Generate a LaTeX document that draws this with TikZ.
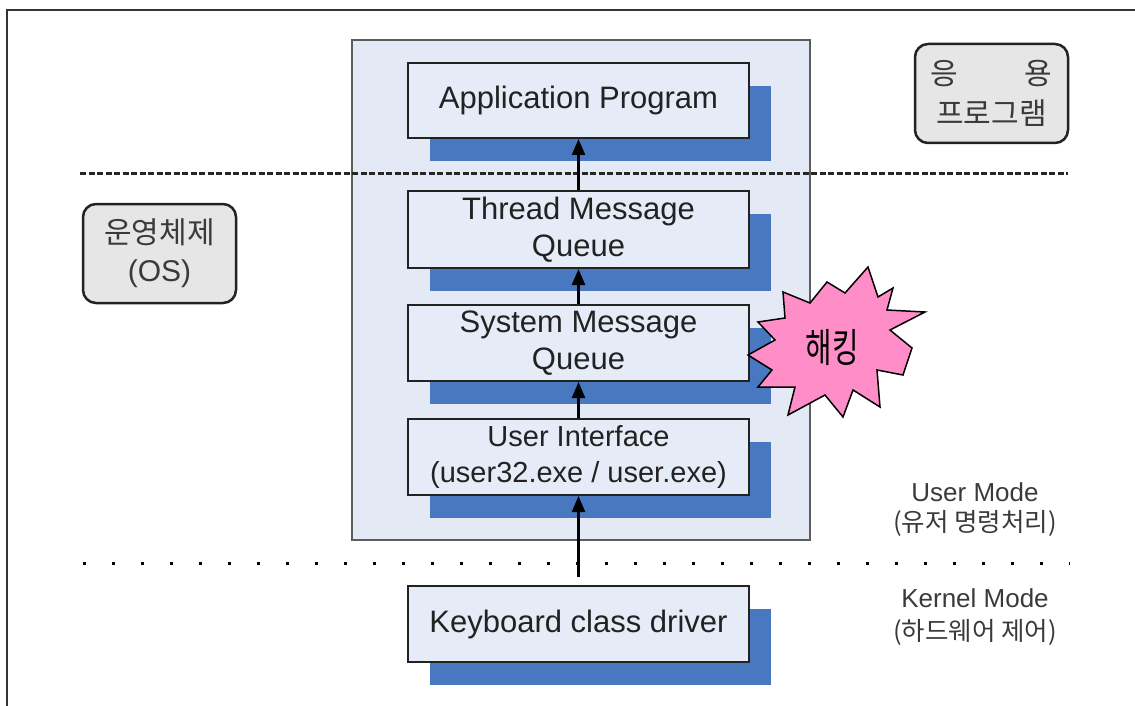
\documentclass[tikz,border=0pt]{standalone}
\usepackage{fontspec}
\usepackage{graphicx}
\setmainfont{Liberation Sans}
\newfontfamily\kr{Noto Sans CJK KR}
\usetikzlibrary{arrows.meta,shadows}
\definecolor{boxfill}{HTML}{E6ECF7}
\definecolor{osfill}{HTML}{E4EAF5}
\definecolor{shblue}{HTML}{4878C0}
\definecolor{labfill}{HTML}{E6E6E6}
\definecolor{pinkfill}{HTML}{FF8EC8}
\definecolor{txt}{HTML}{222222}
\definecolor{labtxt}{HTML}{3A3A3A}
\definecolor{framegray}{HTML}{333333}
\tikzset{
  procbox/.style={draw=txt, line width=2pt, fill=boxfill, minimum width=341pt,
    minimum height=76pt, inner sep=0pt, align=center,
    font=\fontsize{31}{37}\selectfont, text=txt,
    general shadow={fill=shblue, shadow xshift=22pt, shadow yshift=-23pt}},
  labbox/.style={draw=txt, line width=2.5pt, fill=labfill, rounded corners=13pt,
    minimum width=153pt, minimum height=99pt, inner sep=0pt, align=center,
    text=labtxt},
  modetext/.style={text=labtxt, font=\fontsize{26}{30}\selectfont, inner sep=0pt},
  modekr/.style={text=labtxt, font=\kr\fontsize{25.5}{30}\selectfont, inner sep=0pt},
  flow/.style={line width=2.5pt, draw=black, -{Triangle[length=16pt,width=13pt]}},
  boundary/.style={line width=3pt, draw=black!85, dash pattern=on 6pt off 2.5pt},
  dotline/.style={line width=3pt, draw=black, dash pattern=on 3pt off 26pt},
  burst/.style={draw=black, line width=1.5pt, fill=pinkfill, line join=miter}
}
\begin{document}
\begin{tikzpicture}[x=1pt,y=-1pt]
\useasboundingbox (0,0) rectangle (1135,706);
% outer frame
\draw[line width=2.5pt, draw=framegray] (7,706) -- (7,10) -- (1135,10);
% OS container
\node[draw=framegray!80, line width=2pt, fill=osfill, minimum width=458pt,
  minimum height=500pt, inner sep=0pt] (osframe) at (581,290) {};
% process boxes
\node[procbox, minimum height=75pt] (app) at (578.5,100.5) {Application Program};
\node[procbox, minimum height=77pt] (thread) at (578.5,229.5) {Thread Message\\Queue};
\node[procbox] (sysq) at (578.5,343) {System Message\\Queue};
\node[procbox, font=\fontsize{29}{36}\selectfont] (ui) at (578.5,457) {User Interface\\(user32.exe / user.exe)};
\node[procbox] (kbd) at (578.5,624) {Keyboard class driver};
% boundary lines
\coordinate (dashL) at (80,173);
\coordinate (dashR) at (1068,173);
\draw[boundary] (dashL) -- (dashR);
\coordinate (dotL) at (83,563);
\coordinate (dotR) at (1070,563);
\draw[dotline] (dotL) -- (dotR);
% arrows
\draw[flow] (thread.north) -- (app.south);
\draw[flow] (sysq.north) -- (thread.south);
\draw[flow] (ui.north) -- (sysq.south);
\draw[flow, shorten <=8pt] (kbd.north) -- (ui.south);
% hacking burst
\draw[burst] (868,267) -- (878,297) -- (893,288) -- (887,310) -- (925,312)
  -- (890,330) -- (912,348) -- (903,375) -- (877,370) -- (880,407)
  -- (853,390) -- (843,417) -- (825,395) -- (788,415) -- (795,387)
  -- (758,387) -- (772,370) -- (748,355) -- (775,340) -- (758,322)
  -- (785,318) -- (783,292) -- (810,303) -- (827,282) -- (845,293) -- cycle;
\node[inner sep=0pt, text=black] (hack) at (832,348)
  {\scalebox{0.72}[1]{\kr\fontsize{40}{44}\selectfont 해킹}};
% side labels
\node[labbox, font=\kr\fontsize{30}{40}\selectfont] (applabel) at (991.5,93.5)
  {\makebox[122pt]{응\hfill 용}\\프로그램};
\node[labbox, font=\kr\fontsize{30}{38}\selectfont] (oslabel) at (159.5,253.5)
  {운영체제\\{\rmfamily (OS)}};
% mode labels
\node[modetext] (usermode) at (975,492) {User Mode};
\node[modekr] (userkr) at (975,523) {(유저 명령처리)};
\node[modetext] (kernelmode) at (975,598) {Kernel Mode};
\node[modekr] (kernelkr) at (975,632) {(하드웨어 제어)};
\end{tikzpicture}
\end{document}
